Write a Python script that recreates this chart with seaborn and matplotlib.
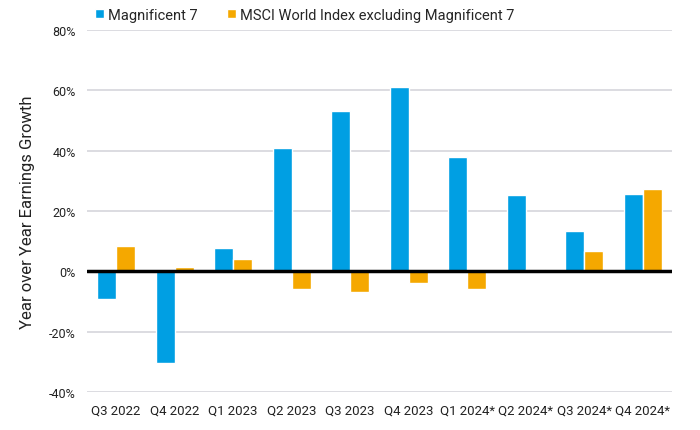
import matplotlib
matplotlib.use("Agg")
import matplotlib.pyplot as plt
import seaborn as sns
import pandas as pd

quarters = ["Q3 2022", "Q4 2022", "Q1 2023", "Q2 2023", "Q3 2023", "Q4 2023",
            "Q1 2024*", "Q2 2024*", "Q3 2024*", "Q4 2024*"]
mag7 = [-9.1, -30.3, 7.6, 41.0, 53.0, 61.0, 38.0, 25.2, 13.3, 25.6]
msci_ex = [8.3, 1.5, 4.0, -6.0, -6.9, -3.9, -6.0, 0.7, 6.6, 27.2]
series_names = ["Magnificent 7", "MSCI World Index excluding Magnificent 7"]
colors = ["#009FE3", "#F5A800"]
yticks = [-40, -20, 0, 20, 40, 60, 80]

df = pd.DataFrame({
    "Quarter": quarters * 2,
    "Growth": mag7 + msci_ex,
    "Series": [series_names[0]] * len(quarters) + [series_names[1]] * len(quarters),
})

sns.set_theme(style="white")
plt.rcParams["font.family"] = ["Roboto", "DejaVu Sans"]

fig = plt.figure(figsize=(7, 4.31), dpi=100)
ax = fig.add_axes([0.124, 0.088, 0.836, 0.84])

sns.barplot(data=df, x="Quarter", y="Growth", hue="Series", palette=colors,
            width=0.65, gap=0, saturation=1, ax=ax, legend=True)

ax.set_ylim(-40, 80)
ax.set_yticks(yticks)
ax.set_yticklabels([f"{t}%" for t in yticks], fontsize=9, color="#222222")
ax.tick_params(axis="x", labelsize=9.5, colors="#222222", length=0, pad=8)
ax.tick_params(axis="y", length=0, pad=8)
ax.set_xlim(-0.5, len(quarters) - 0.5)
ax.set_xlabel("")
ax.set_ylabel("Year over Year Earnings Growth", fontsize=12, color="#222222", labelpad=10)

for t in yticks:
    if t != 0:
        ax.axhline(t, color="#D5D5DC", lw=1.2, zorder=0)
ax.axhline(0, color="black", lw=2.5, zorder=3)

for s in ax.spines.values():
    s.set_visible(False)

handles, labels = ax.get_legend_handles_labels()
ax.get_legend().remove()
fig.legend(handles, labels, loc="upper left", bbox_to_anchor=(89 / 700, 1 - 3 / 431), ncol=2,
           frameon=False, fontsize=10.5,
           handlelength=0.6, handleheight=0.6,
           handletextpad=0.3, columnspacing=2.0, borderaxespad=0.0)

fig.savefig("out.png", dpi=100)
